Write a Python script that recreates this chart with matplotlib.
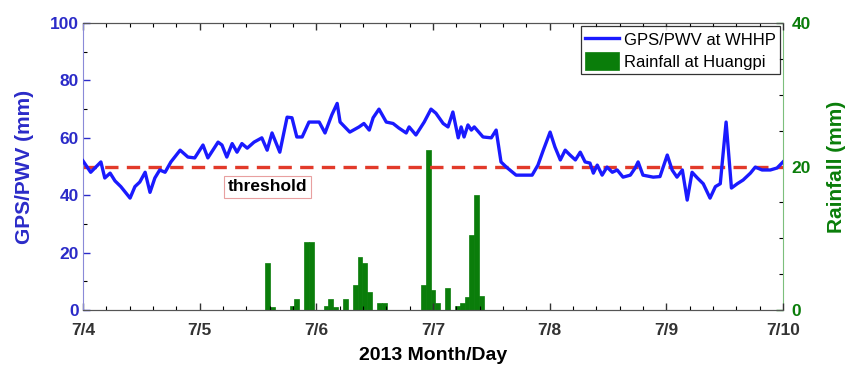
import numpy as np
import matplotlib
matplotlib.use('Agg')
import matplotlib.pyplot as plt
from matplotlib.ticker import MultipleLocator

plt.rcParams['font.family'] = ['Liberation Sans', 'DejaVu Sans']

# hours since 2013-07-04 00:00 and GPS/PWV (mm)
pwv_hours = [0, 1.6, 3.7, 4.5, 5.6, 6.6, 7.8, 9.7, 10.7, 11.7, 12.8, 13.8, 14.8, 15.8, 16.9,
             18.1, 20.0, 21.6, 23.0, 24.7, 25.7, 27.8, 28.6, 29.6, 30.7, 31.7, 32.7, 33.8,
             35.2, 36.8, 37.9, 38.9, 40.5, 42.0, 43.0, 44.0, 45.1, 46.5, 48.6, 49.8, 51.2,
             52.3, 52.9, 54.9, 56.8, 57.8, 58.9, 59.7, 60.9, 62.4, 63.8, 65.0, 66.5, 67.1,
             68.5, 70.2, 71.6, 72.6, 74.1, 75.1, 76.1, 77.2, 77.8, 78.4, 79.2, 79.9, 80.5,
             82.3, 84.0, 85.0, 86.0, 87.1, 89.1, 90.6, 92.4, 93.6, 94.7, 96.1, 97.1, 98.2,
             99.2, 100.2, 101.3, 102.3, 103.3, 104.3, 105.0, 105.8, 106.8, 107.8, 108.9,
             109.9, 111.1, 112.6, 113.6, 114.2, 115.2, 117.3, 118.7, 120.2, 121.2, 122.2,
             123.3, 124.3, 125.3, 126.4, 127.6, 129.0, 130.1, 131.1, 132.3, 133.4, 134.6,
             135.8, 137.3, 138.3, 139.7, 141.4, 142.8, 144.0]
pwv = [52, 48, 51.6, 46, 47.7, 45, 43, 39, 43, 44.6, 48, 41, 46, 48.8, 48,
       51.6, 55.7, 53.3, 53, 57.5, 53, 58.5, 57.5, 53.3, 58, 55, 58, 56.4,
       58.5, 60, 55.7, 61.7, 55, 67.2, 67, 60.3, 60.3, 65.5, 65.5, 61.7, 68,
       72, 65.5, 62, 63.8, 65, 62.7, 67, 70, 65.5, 65, 63.4, 61.7, 63.8,
       61, 65.5, 70, 68.6, 65, 63.8, 69, 60, 63.8, 60.3, 64.5, 62.7, 63.8,
       60.3, 60, 62.7, 51.6, 49.8, 47, 47, 47, 50.5, 55.7, 62, 56.8, 52.3,
       55.7, 54, 52.3, 55, 51.6, 51.2, 47.7, 50.5, 47, 49.8, 48,
       48.8, 46.3, 47, 49.5, 51.6, 47, 46.3, 46.5, 54, 48.8, 46.3,
       48.8, 38.3, 48, 46, 44, 39, 43, 44, 65.5, 42.5, 44,
       45.3, 47.7, 49.8, 48.8, 48.8, 49.5, 51.6]

# hourly rainfall at Huangpi (mm)
rain_hours = [38, 39, 43, 44, 46, 47, 50, 51, 52, 54, 56, 57, 58, 59, 61, 62,
              70, 71, 72, 73, 75, 77, 78, 79, 80, 81, 82]
rain = [6.5, 0.4, 0.5, 1.5, 9.5, 9.5, 0.5, 1.5, 0.4, 1.5, 3.5, 7.4, 6.5, 2.5, 1.0, 1.0,
        3.5, 22.3, 2.8, 1.0, 3.0, 0.5, 1.0, 1.8, 10.5, 16, 2.0]

threshold = 50
day_labels = ['7/4', '7/5', '7/6', '7/7', '7/8', '7/9', '7/10']

blue = '#1a1aff'
tick_blue = '#2b2bc8'
green = '#0a7d0a'

fig = plt.figure(figsize=(8.46, 3.66), dpi=100)
ax = fig.add_axes([0.098, 0.153, 0.8275, 0.784])
ax2 = ax.twinx()

ax2.bar(rain_hours, rain, width=1.0, color=green, edgecolor=green, linewidth=0.5,
        label='Rainfall at Huangpi', zorder=2)
ax2.set_ylim(0, 40)

ax.set_zorder(ax2.get_zorder() + 1)
ax.patch.set_visible(False)
ln, = ax.plot(pwv_hours, pwv, color=blue, lw=2.4, label='GPS/PWV at WHHP', zorder=3)
ax.axhline(threshold, color='#e23a2a', lw=2.4, ls=(0, (4, 2.5)), zorder=2)
ax.text(38, 43, 'threshold', ha='center', va='center', fontsize=12.5, fontweight='bold',
        bbox=dict(boxstyle='square,pad=0.2', facecolor='white', edgecolor='#e8a0a0', lw=0.8))

ax.set_xlim(0, 144)
ax.set_ylim(0, 100)
ax.set_xticks(np.arange(0, 145, 24))
ax.set_xticklabels(day_labels)
ax.xaxis.set_minor_locator(MultipleLocator(4.8))
ax.yaxis.set_minor_locator(MultipleLocator(10))
ax2.yaxis.set_major_locator(MultipleLocator(20))
ax2.yaxis.set_minor_locator(MultipleLocator(5))

for a in (ax, ax2):
    a.tick_params(which='both', direction='in', top=True)
    a.tick_params(which='major', length=5, width=1)
    a.tick_params(which='minor', length=3, width=0.8)
    for lbl in a.get_xticklabels() + a.get_yticklabels():
        lbl.set_fontweight('bold')
        lbl.set_fontsize(12.5)

ax.tick_params(axis='y', colors=tick_blue, right=False, pad=3)
ax.tick_params(axis='x', colors='#333333', pad=9)
ax2.tick_params(axis='y', colors=green, pad=6)
ax.spines['left'].set_color('#8a8ad8')
ax2.spines['left'].set_visible(False)
ax2.spines['right'].set_color('#7cbf7c')
for s in ('top', 'bottom'):
    ax.spines[s].set_color('#555555')
    ax2.spines[s].set_color('#555555')
ax.spines['right'].set_visible(False)

ax.set_ylabel('GPS/PWV (mm)', color=tick_blue, fontsize=15, fontweight='bold', labelpad=11)
ax2.set_ylabel('Rainfall (mm)', color=green, fontsize=15, fontweight='bold', labelpad=12)
ax.set_xlabel('2013 Month/Day', fontsize=14, fontweight='bold', labelpad=7)

bars = ax2.containers[0]
leg = ax.legend([ln, bars], ['GPS/PWV at WHHP', 'Rainfall at Huangpi'], loc='upper right',
                fontsize=12, frameon=True, fancybox=False, borderaxespad=0.2,
                handlelength=2.0, handleheight=1.3, handletextpad=0.3, borderpad=0.25,
                labelspacing=0.2)
leg.get_frame().set_edgecolor('black')
leg.get_frame().set_linewidth(0.9)

fig.savefig('out.png', dpi=100)
